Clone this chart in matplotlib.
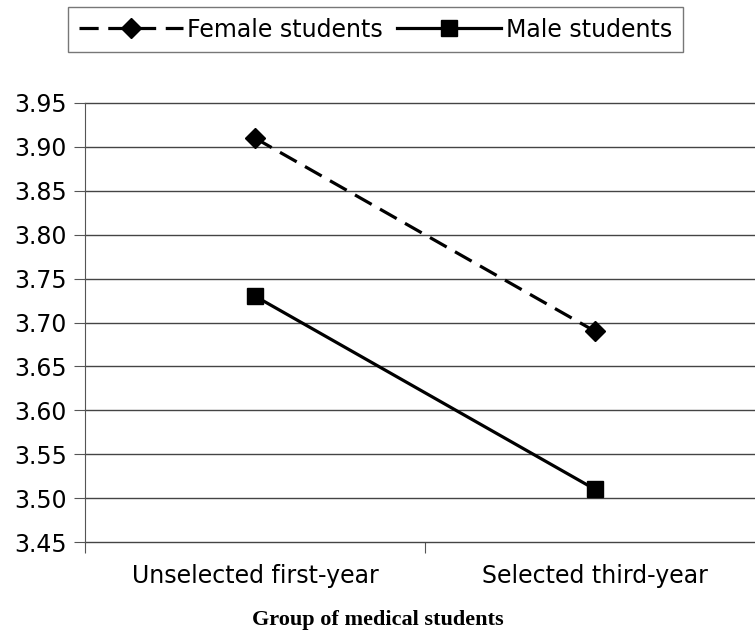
import matplotlib.pyplot as plt

# data
groups = ['Unselected first-year', 'Selected third-year']
female = [3.91, 3.69]
male = [3.73, 3.51]
yticks = [3.45, 3.50, 3.55, 3.60, 3.65, 3.70, 3.75, 3.80, 3.85, 3.90, 3.95]

fig = plt.figure(figsize=(7.55, 6.33), dpi=100)
ax = fig.add_axes([85 / 755, 1 - 542 / 633, 680 / 755, 439 / 633])

x = [0.5, 1.5]
ax.plot(x, female, color='black', linestyle=(0, (6, 3)), linewidth=2.3,
        marker='D', markersize=10, label='Female students')
ax.plot(x, male, color='black', linestyle='-', linewidth=2.3,
        marker='s', markersize=12, label='Male students')

ax.set_xlim(0, 2)
ax.set_ylim(3.45, 3.95)
ax.set_yticks(yticks)
ax.set_yticklabels([f'{v:.2f}' for v in yticks])
ax.set_xticks([0, 1, 2])
ax.set_xticks(x, minor=True)
ax.set_xticklabels(['', '', ''])
ax.set_xticklabels(groups, minor=True)
ax.tick_params(axis='x', which='minor', length=0, pad=16, labelsize=17)
ax.tick_params(axis='x', which='major', length=8, color='#555555')
ax.tick_params(axis='y', length=8, color='#555555', labelsize=17, pad=5)
ax.yaxis.grid(True, color='#444444', linewidth=1)
for gl in ax.get_ygridlines():
    gl.set_clip_on(False)

for s in ['top', 'right', 'bottom']:
    ax.spines[s].set_visible(False)
ax.spines['left'].set_color('#555555')

fig.text(0.5, 1 - 620 / 633, 'Group of medical students', ha='center', va='center',
         family='Liberation Serif', weight='bold', fontsize=16)

fig.legend(loc='upper left', bbox_to_anchor=(68 / 755, 1 - 7 / 633), ncol=2,
           frameon=True, fancybox=False, edgecolor='#555555', fontsize=17,
           handlelength=4.4, handletextpad=0.2, columnspacing=0.6,
           borderpad=0.45, borderaxespad=0)

fig.savefig('out.png', dpi=100)
